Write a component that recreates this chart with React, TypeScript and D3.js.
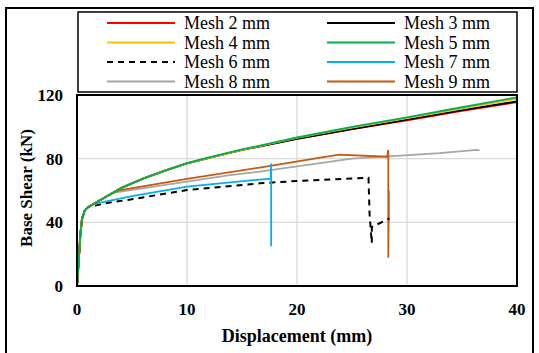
import * as d3 from "d3"

// displacement (mm) / base shear (kN)
const mesh2: [number, number][] = [[0, 0], [0.15, 15], [0.3, 32], [0.45, 42], [0.7, 47.5], [1, 49.5], [1.5, 51.5], [2, 53.5], [3, 57.5], [4, 61.5], [6, 67.5], [8, 72.5], [10, 77], [12, 80.5], [15, 85.5], [20, 92.5], [25, 98.5], [30, 104], [35, 110], [40, 115.5]]
const mesh3: [number, number][] = [[0, 0], [0.15, 15], [0.3, 32], [0.45, 42], [0.7, 47.5], [1, 49.5], [1.5, 51.5], [2, 53.5], [3, 57.5], [4, 61.5], [6, 67.5], [8, 72.5], [10, 77], [12, 80.5], [15, 85.5], [20, 92.5], [25, 98.5], [30, 104.5], [35, 110.5], [40, 116]]
const mesh4: [number, number][] = [[0, 0], [0.15, 15], [0.3, 32], [0.45, 42], [0.7, 47.5], [1, 49.5], [1.5, 51.5], [2, 53.5], [3, 57.5], [4, 61.5], [6, 67.5], [8, 72.5], [10, 77], [12, 80.5], [15, 85.5], [20, 93], [25, 99.5], [30, 105.5], [35, 111.5], [40, 117.5]]
const mesh5: [number, number][] = [[0, 0], [0.15, 15], [0.3, 32], [0.45, 42], [0.7, 47.5], [1, 49.5], [1.5, 51.5], [2, 53.5], [3, 57.5], [4, 61.5], [6, 67.5], [8, 72.5], [10, 77.2], [12, 80.8], [15, 85.8], [20, 93.3], [25, 100], [30, 106], [35, 112.3], [40, 118.5]]
const mesh6: [number, number][] = [[0, 0], [0.15, 15], [0.3, 32], [0.45, 42], [0.7, 47.5], [1, 49.5], [1.3, 50], [3, 52.5], [5, 54.5], [10, 60.3], [16.6, 64.5], [20, 66], [26.5, 68], [26.6, 45], [26.8, 27], [26.8, 37], [28.4, 42.5]]
const mesh7: [number, number][] = [[0, 0], [0.15, 15], [0.3, 32], [0.45, 42], [0.7, 47.5], [1, 49.5], [1.5, 51.5], [1.9, 52], [5, 56.5], [10, 62.5], [17.6, 67.5], [17.65, 77], [17.65, 25]]
const mesh8: [number, number][] = [[0, 0], [0.15, 15], [0.3, 32], [0.45, 42], [0.7, 47.5], [1, 49.5], [1.5, 51.5], [2, 53.5], [3.2, 58.5], [10, 65.6], [13.9, 69.7], [16.6, 71.8], [25, 80], [28, 81.3], [33, 83.5], [36.3, 85.5], [36.6, 85.2]]
const mesh9: [number, number][] = [[0, 0], [0.15, 15], [0.3, 32], [0.45, 42], [0.7, 47.5], [1, 49.5], [1.5, 51.5], [2, 53.5], [3, 57.5], [3.7, 60], [10, 67.3], [16.6, 74.4], [23.8, 82.5], [28.2, 81.2], [28.3, 85.5], [28.3, 17.8], [28.35, 60], [28.35, 40]]

const seriesNames = ["Mesh 2 mm", "Mesh 3 mm", "Mesh 4 mm", "Mesh 5 mm", "Mesh 6 mm", "Mesh 7 mm", "Mesh 8 mm", "Mesh 9 mm"]
const seriesData = [mesh2, mesh3, mesh4, mesh5, mesh6, mesh7, mesh8, mesh9]
const seriesColors = ["#ff0000", "#000000", "#ffc000", "#00b050", "#000000", "#00b0f0", "#a6a6a6", "#c55a11"]
const seriesDash = ["", "", "", "", "6,5", "", "", ""]
// draw order (index into series); green sits on top of the main curves
const drawOrder = [6, 7, 4, 5, 0, 1, 2, 3]

const xTicks = [0, 10, 20, 30, 40]
const yTicks = [0, 40, 80, 120]

export default function App() {
  const font = "'Liberation Serif', 'Times New Roman', serif"
  const x = d3.scaleLinear().domain([0, 40]).range([77, 517])
  const y = d3.scaleLinear().domain([0, 120]).range([286, 95])
  const line = d3.line<[number, number]>().x(d => x(d[0])).y(d => y(d[1]))

  return (
    <svg width={539} height={353} style={{ position: "absolute", left: 0, top: 0 }} fontFamily={font}>
      <rect x={0} y={0} width={539} height={353} fill="#fff" />
      <rect x={6} y={8} width={527} height={360} fill="none" stroke="#000" strokeWidth={2} />

      {/* grid */}
      {xTicks.slice(1, -1).map(t => (
        <line key={"gx" + t} x1={x(t)} x2={x(t)} y1={y(0)} y2={y(120)} stroke="#d9d9d9" strokeWidth={1.3} />
      ))}
      {yTicks.slice(1, -1).map(t => (
        <line key={"gy" + t} x1={x(0)} x2={x(40)} y1={y(t)} y2={y(t)} stroke="#d9d9d9" strokeWidth={1.3} />
      ))}

      {/* curves */}
      {drawOrder.map(i => (
        <path key={i} d={line(seriesData[i]) ?? ""} fill="none" stroke={seriesColors[i]}
          strokeWidth={i === 4 ? 2 : 1.8} strokeDasharray={seriesDash[i] || undefined} />
      ))}

      <rect x={x(0)} y={y(120)} width={x(40) - x(0)} height={y(0) - y(120)} fill="none" stroke="#000" strokeWidth={2} />

      {/* ticks */}
      {xTicks.map(t => (
        <text key={"tx" + t} x={x(t)} y={315} textAnchor="middle" fontSize={17} fontWeight="bold">{t}</text>
      ))}
      {yTicks.map(t => (
        <text key={"ty" + t} x={63} y={y(t) + 6} textAnchor="end" fontSize={17} fontWeight="bold">{t}</text>
      ))}
      <text x={297} y={342} textAnchor="middle" fontSize={18} fontWeight="bold">Displacement (mm)</text>
      <text transform="translate(32,188) rotate(-90)" textAnchor="middle" fontSize={17} fontWeight="bold">Base Shear (kN)</text>

      {/* legend */}
      <rect x={78} y={12} width={439} height={80} fill="#fff" stroke="#000" strokeWidth={1.5} />
      {seriesNames.map((name, i) => {
        const col = i % 2
        const row = Math.floor(i / 2)
        const lx = col === 0 ? 107 : 327
        const ly = 23 + row * 19.5
        return (
          <g key={name}>
            <line x1={lx} x2={lx + 68} y1={ly} y2={ly} stroke={seriesColors[i]} strokeWidth={2}
              strokeDasharray={seriesDash[i] || undefined} />
            <text x={lx + 77} y={ly + 6} fontSize={18}>{name}</text>
          </g>
        )
      })}
    </svg>
  )
}
